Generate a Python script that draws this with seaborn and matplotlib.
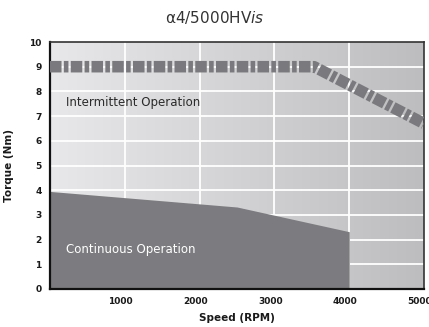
import numpy as np
import matplotlib
matplotlib.use("Agg")
import matplotlib.pyplot as plt
import matplotlib.transforms as mtransforms
import seaborn as sns
import pandas as pd

# Data
cont_speed = [0, 2500, 4000]
cont_torque = [3.95, 3.32, 2.32]
int_speed = [0, 3530, 5000]
int_torque = [9.0, 9.0, 6.7]
x_ticks = [1000, 2000, 3000, 4000, 5000]
y_ticks = [0, 1, 2, 3, 4, 5, 6, 7, 8, 9, 10]

sns.set_theme(style="white")
plt.rcParams['font.family'] = ['DejaVu Sans']

fig = plt.figure(figsize=(4.29, 3.27), dpi=100)
ax = fig.add_axes([50/429, 38/327, 374/429, 247/327])
ax.set_xlim(0, 5000)
ax.set_ylim(0, 10)

# gradient background
grad = np.linspace(0, 1, 256).reshape(1, -1)
cmap = matplotlib.colors.LinearSegmentedColormap.from_list("bg", ["#e8e8ea", "#bdbdbf"])
ax.imshow(grad, extent=[0, 5000, 0, 10], aspect="auto", cmap=cmap, zorder=0)

for x in x_ticks[:-1]:
    ax.axvline(x, color="white", lw=1.3, zorder=1)
for y in y_ticks[1:-1]:
    ax.axhline(y, color="white", lw=1.3, zorder=1)

# continuous area
ax.fill_between(cont_speed, cont_torque, 0, color="#7c7c80", lw=0, zorder=2)

# intermittent line
df = pd.DataFrame({"speed": int_speed, "torque": int_torque})
sns.lineplot(data=df, x="speed", y="torque", ax=ax, color="#7a7a7e", lw=8.3,
             zorder=3, estimator=None, sort=False)
line = ax.lines[-1]
line.set_dashes([1.0, 0.2, 0.4, 0.2])
line.set_dash_capstyle("butt")
line.set_solid_joinstyle("miter")
line.set_clip_on(True)

ax.text(220, 7.55, "Intermittent Operation", color="#2a2a2a", fontsize=8.5, va="center", zorder=4)
ax.text(220, 1.6, "Continuous Operation", color="white", fontsize=8.5, va="center", zorder=4)

ax.set_xticks(x_ticks)
ax.set_yticks(y_ticks)
ax.set_xticklabels([str(v) for v in x_ticks], fontsize=6.5, fontweight="bold", color="#1a1a1a")
ax.set_yticklabels([str(v) for v in y_ticks], fontsize=6.5, fontweight="bold", color="#1a1a1a")
ax.tick_params(axis="both", length=0, pad=6)
ax.grid(False)
off = mtransforms.ScaledTranslation(-4/100, 0, fig.dpi_scale_trans)
for lab in ax.get_xticklabels():
    lab.set_transform(lab.get_transform() + off)

ax.set_xlabel("Speed (RPM)", fontsize=7.5, fontweight="bold", color="#1a1a1a", labelpad=5)
ax.set_ylabel("Torque (Nm)", fontsize=7.5, fontweight="bold", color="#1a1a1a", labelpad=11)

for s in ["left", "bottom"]:
    ax.spines[s].set_color("#111111")
    ax.spines[s].set_linewidth(1.6)
for s in ["top", "right"]:
    ax.spines[s].set_color("#333333")
    ax.spines[s].set_linewidth(1.2)
    ax.spines[s].set_visible(True)

fig.text(0.5, 0.945, r"α4/5000HV$\mathit{is}$", ha="center", va="center", fontsize=11, color="#333333")

fig.savefig("out.png", dpi=100)
